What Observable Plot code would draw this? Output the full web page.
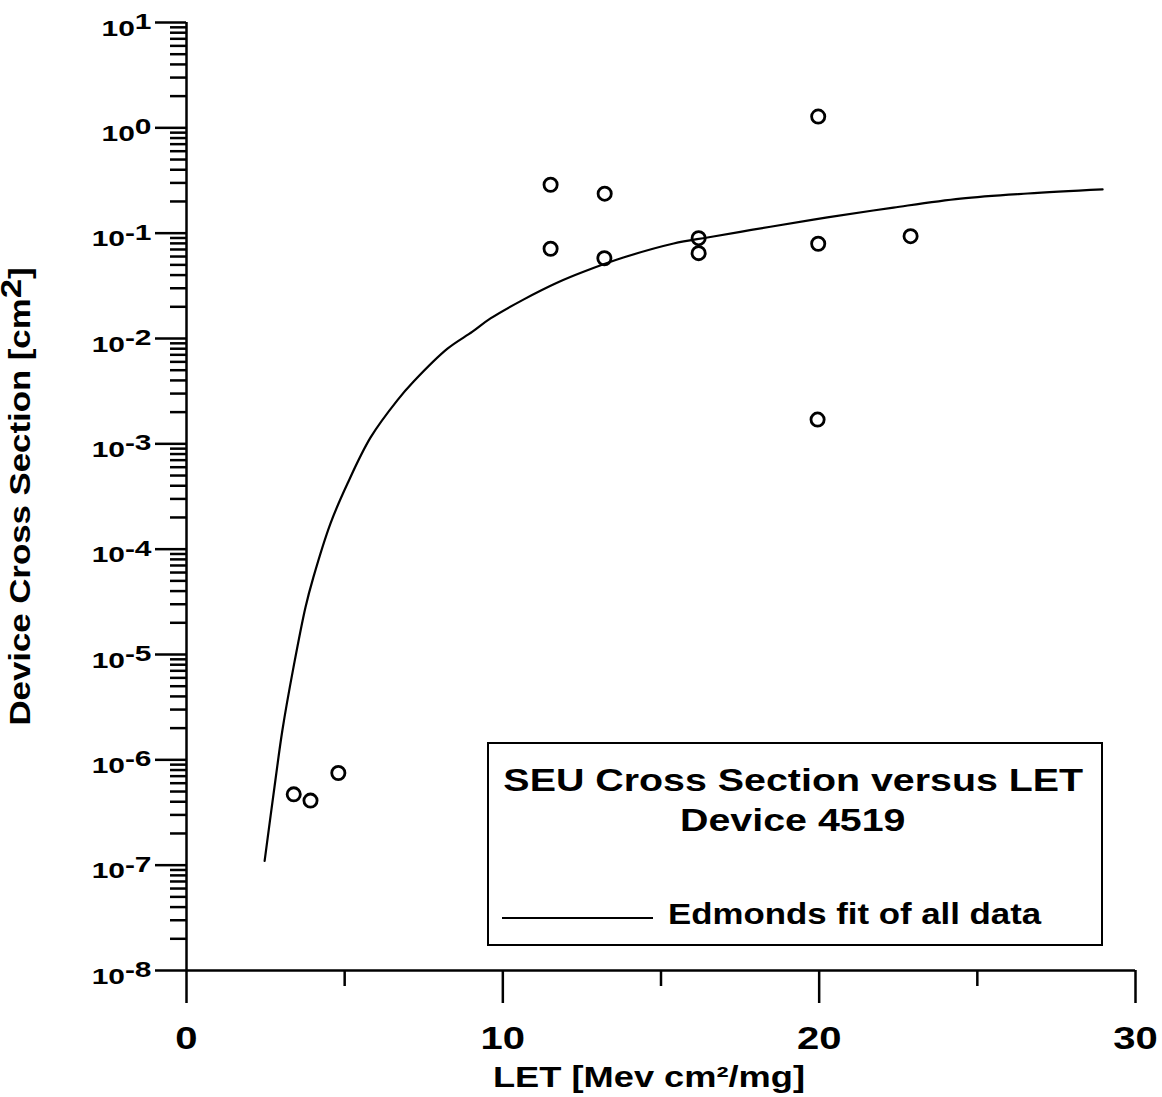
<!DOCTYPE html>
<html>
<head>
<meta charset="utf-8">
<script src="https://cdn.jsdelivr.net/npm/d3@7"></script>
<script src="https://cdn.jsdelivr.net/npm/@observablehq/plot@0.6"></script>
<style>
html, body { margin: 0; padding: 0; background: #fff; }
#wrap { position: relative; width: 1162px; height: 1097px; overflow: hidden;
  font-family: "Liberation Sans", Arial, sans-serif; font-weight: bold; color: #000; }
#wrap svg { display: block; }
#legend { position: absolute; left: 487px; top: 742px; width: 616px; height: 204px;
  box-sizing: border-box; border: 2.5px solid #000; background: #fff; }
#legend .ttl { position: absolute; left: 0; width: 608px; text-align: center; font-size: 31px; line-height: 31px; }
#legend .ttl span { display: inline-block; transform: scaleX(1.27); transform-origin: center; }
#legend .swatch { position: absolute; left: 13px; width: 151px; top: 173px; border-top: 2.2px solid #000; }
#legend .item { position: absolute; left: 179px; top: 156px; font-size: 29px; line-height: 29px;
  transform: scaleX(1.2); transform-origin: left center; white-space: nowrap; }
</style>
</head>
<body>
<div id="wrap"></div>
<script>
// ---- data ----
const yExponents = [-8, -7, -6, -5, -4, -3, -2, -1, 0, 1];
const xMajorTicks = [0, 10, 20, 30];
const xMinorTicks = [5, 15, 25];
const xTitle = "LET [Mev cm²/mg]";
const yTitle = "Device Cross Section [cm^{2}]";
const legendTitle = ["SEU Cross Section versus LET", "Device 4519"];
const legendItem = "Edmonds fit of all data";

// measured data points (LET, cross section)
const pointLET   = [3.39, 3.92, 4.80, 11.51, 11.51, 13.22, 13.21, 16.19, 16.19, 19.97, 19.97, 19.95, 22.89];
const pointSigma = [4.7e-7, 4.1e-7, 7.5e-7, 0.288, 0.0711, 0.237, 0.0578, 0.0896, 0.0646, 1.28, 0.0793, 0.0017, 0.0936];

// Edmonds fit curve
const fitLET   = [2.47, 2.81, 3.03, 3.38, 3.76, 4.01, 4.55, 5.09, 5.82, 6.67, 7.18, 8.25, 9.04, 9.61, 10.65, 11.73, 12.55, 13.81, 15.40, 16.47, 17.51, 18.46, 20.26, 22.35, 24.47, 26.59, 28.96];
const fitSigma = [1.1e-7, 6.4e-7, 1.9e-6, 7.5e-6, 2.8e-5, 5.4e-5, 1.75e-4, 4.2e-4, 1.15e-3, 2.6e-3, 3.9e-3, 8.0e-3, 0.0116, 0.0155, 0.0234, 0.034, 0.043, 0.0587, 0.0798, 0.091, 0.103, 0.115, 0.141, 0.175, 0.213, 0.238, 0.260];

const points = pointLET.map((x, i) => ({let: x, sigma: pointSigma[i]}));
const fit = fitLET.map((x, i) => ({let: x, sigma: fitSigma[i]}));

const yMajor = yExponents.map(e => 10 ** e);
const yMinor = yExponents.slice(0, -1).flatMap(e => d3.range(2, 10).map(k => k * 10 ** e));

const chart = Plot.plot({
  width: 1162,
  height: 1097,
  marginLeft: 186,
  marginRight: 27,
  marginTop: 22,
  marginBottom: 127,
  style: { fontFamily: '"Liberation Sans", Arial, sans-serif', fontWeight: "bold", background: "white", color: "black" },
  x: { domain: [0, 30], axis: null },
  y: { type: "log", domain: [1e-8, 10], axis: null },
  marks: [
    Plot.axisY({ ticks: yMinor, tickSize: 16, tickFormat: () => "", strokeWidth: 2.5, label: null }),
    Plot.axisY({ ticks: yMajor, tickSize: 31, tickFormat: () => "", strokeWidth: 2.5, label: null }),
    Plot.axisX({ ticks: xMinorTicks, tickSize: 16, tickFormat: () => "", strokeWidth: 2.5, label: null }),
    Plot.axisX({ ticks: xMajorTicks, tickSize: 33, tickFormat: () => "", strokeWidth: 2.5, label: null }),
    Plot.ruleX([0], { strokeWidth: 2.5 }),
    Plot.ruleY([1e-8], { strokeWidth: 2.5 }),
    Plot.line(fit, { x: "let", y: "sigma", stroke: "black", strokeWidth: 2.2, curve: "catmull-rom" }),
    Plot.dot(points, { x: "let", y: "sigma", r: 6.6, stroke: "black", strokeWidth: 2.8, fill: "none" }),
    Plot.text(yExponents, { y: e => 10 ** e, frameAnchor: "left", dx: -35, dy: 6, textAnchor: "end", lineAnchor: "middle",
      text: e => `10^{${e}}`, fontSize: 22, fill: "black" }),
    Plot.text(xMajorTicks, { x: d => d, frameAnchor: "bottom", dy: 68.5, textAnchor: "middle", lineAnchor: "middle",
      text: d => String(d), fontSize: 32, fill: "black" }),
    Plot.text([xTitle], { frameAnchor: "bottom", dx: -12, dy: 107, textAnchor: "middle", lineAnchor: "middle",
      text: d => d, fontSize: 29, fill: "black" }),
    Plot.text([yTitle], { frameAnchor: "left", dx: -166, rotate: -90, textAnchor: "middle", lineAnchor: "middle",
      text: d => d, fontSize: 29, fill: "black" })
  ]
});

// superscripts and horizontal stretch of the wide typeface
d3.select(chart).selectAll("text").each(function () {
  const s = this.textContent;
  if (!s) return;
  const el = d3.select(this);
  const m = s.match(/^(.*)\^\{(.*)\}(.*)$/);
  const isTick = /^10\^/.test(s);
  const isYTitle = s === yTitle;
  if (m) {
    el.text("");
    el.append("tspan").text(m[1]);
    el.append("tspan").attr("dy", "-0.3em").text(m[2]);
    if (m[3]) el.append("tspan").attr("dy", "0.3em").text(m[3]);
  }
  const sx = isTick ? 1.36 : isYTitle ? 1.2 : 1.25;
  const t = this.getAttribute("transform") || "";
  this.setAttribute("transform", t + ` scale(${sx},1)`);
});

const wrap = document.getElementById("wrap");
wrap.appendChild(chart);

// inset legend
const legend = d3.select(wrap).append("div").attr("id", "legend");
legend.selectAll("div.ttl").data(legendTitle).join("div").attr("class", "ttl")
  .style("top", (d, i) => (i === 0 ? 21 : 61) + "px")
  .append("span").text(d => d);
legend.append("div").attr("class", "swatch");
legend.append("div").attr("class", "item").text(legendItem);
</script>
</body>
</html>
